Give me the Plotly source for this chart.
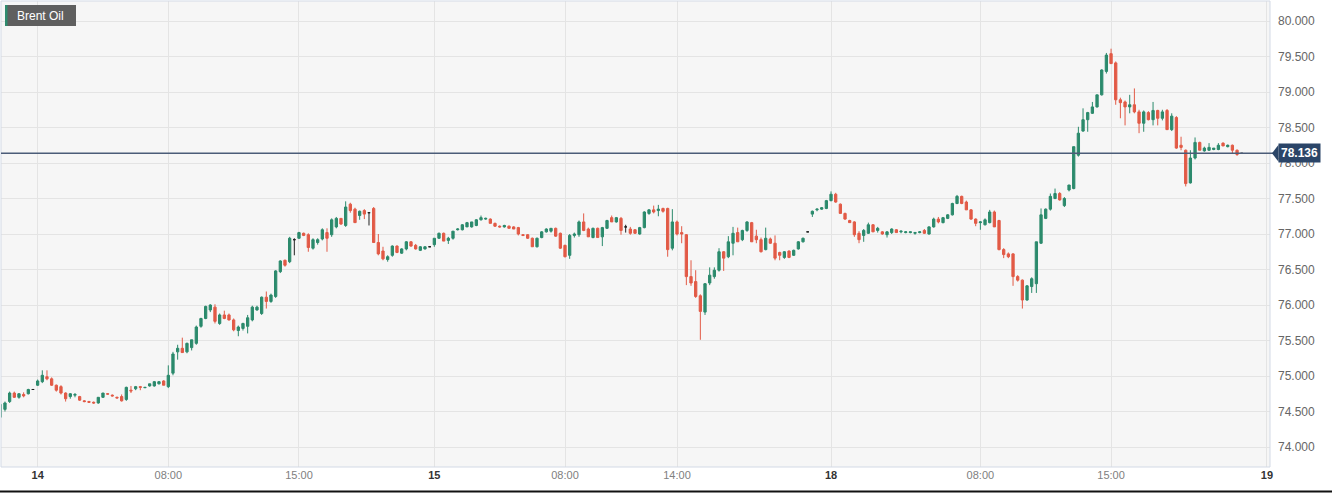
import plotly.graph_objects as go

# ---------------- data (15-minute candles) ----------------
opens = [
    74.42, 74.53, 74.64, 74.76, 74.70, 74.74, 74.75, 74.81, 74.87, 74.92,
    74.99, 74.96, 74.87, 74.85, 74.76, 74.71, 74.73, 74.71, 74.65, 74.64,
    74.63, 74.62, 74.70, 74.75, 74.73, 74.70, 74.71, 74.67, 74.80, 74.82,
    74.85, 74.835, 74.86, 74.86, 74.89, 74.93, 74.85, 75.04, 75.34, 75.39,
    75.34, 75.40, 75.46, 75.70, 75.81, 75.93, 75.97, 75.74, 75.86, 75.86,
    75.79, 75.64, 75.67, 75.70, 75.79, 75.93, 75.88, 76.11, 76.05, 76.12,
    76.47, 76.63, 76.61, 76.92, 76.94, 77.01, 76.99, 76.80, 76.88, 76.93,
    77.02, 76.99, 77.10, 77.22, 77.12, 77.42, 77.35, 77.26, 77.33, 77.30,
    77.36, 76.88, 76.76, 76.64, 76.70, 76.83, 76.73, 76.79, 76.89, 76.84,
    76.77, 76.79, 76.82, 76.85, 76.94, 77.01, 76.91, 76.94, 77.06, 77.06,
    77.10, 77.10, 77.12, 77.20, 77.21, 77.21, 77.15, 77.11, 77.10, 77.11,
    77.10, 77.09, 76.99, 76.99, 76.94, 76.82, 76.95, 77.03, 77.04, 77.08,
    77.01, 76.84, 76.70, 76.98, 76.99, 77.17, 77.07, 76.95, 77.08, 76.96,
    77.08, 77.23, 77.17, 77.22, 77.10, 77.07, 77.06, 77.00, 77.09, 77.29,
    77.34, 77.33, 77.36, 77.36, 76.80, 77.17, 77.02, 76.99, 76.40, 76.33,
    76.13, 75.90, 76.31, 76.40, 76.49, 76.75, 76.68, 76.87, 77.02, 76.92,
    77.05, 77.16, 76.97, 76.92, 76.78, 76.93, 76.87, 76.74, 76.67, 76.76,
    76.70, 76.79, 76.89, 77.03, 77.28, 77.34, 77.35, 77.36, 77.47, 77.56,
    77.42, 77.29, 77.19, 77.17, 77.01, 76.98, 77.01, 77.13, 77.05, 77.03,
    76.99, 77.02, 77.06, 77.03, 77.02, 77.02, 77.01, 77.02, 77.05, 77.00,
    77.10, 77.21, 77.16, 77.22, 77.27, 77.43, 77.53, 77.45, 77.34, 77.21,
    77.16, 77.13, 77.16, 77.31, 77.19, 76.78, 76.72, 76.72, 76.40, 76.35,
    76.07, 76.26, 76.30, 76.87, 77.22, 77.35, 77.50, 77.57, 77.40, 77.62,
    77.64, 78.11, 78.45, 78.61, 78.70, 78.79, 78.96, 79.29, 79.54, 79.41,
    78.89, 78.86, 78.79, 78.82, 78.72, 78.56, 78.71, 78.61, 78.74, 78.63,
    78.74, 78.47, 78.64, 78.25, 78.18, 77.72, 78.07, 78.29, 78.17, 78.18,
    78.19, 78.19, 78.28, 78.23, 78.25, 78.18, 78.136,
]
highs = [
    74.64, 74.64, 74.78, 74.78, 74.76, 74.77, 74.82, 74.81, 74.95, 75.08,
    75.08, 74.98, 74.88, 74.87, 74.77, 74.76, 74.76, 74.72, 74.66, 74.65,
    74.64, 74.70, 74.76, 74.76, 74.74, 74.71, 74.74, 74.85, 74.86, 74.86,
    74.86, 74.84, 74.89, 74.93, 74.93, 74.94, 75.15, 75.34, 75.44, 75.54,
    75.47, 75.51, 75.71, 75.82, 75.99, 76.01, 76.01, 75.88, 75.92, 75.88,
    75.81, 75.71, 75.75, 75.86, 75.99, 75.99, 76.12, 76.19, 76.16, 76.49,
    76.63, 76.64, 76.96, 76.94, 77.03, 77.02, 77.01, 76.94, 76.94, 77.08,
    77.08, 77.22, 77.24, 77.22, 77.46, 77.44, 77.37, 77.33, 77.35, 77.31,
    77.38, 77.00, 76.82, 76.70, 76.84, 76.84, 76.80, 76.90, 76.90, 76.86,
    76.83, 76.83, 76.82, 76.94, 77.02, 77.02, 76.96, 77.04, 77.08, 77.14,
    77.17, 77.17, 77.21, 77.26, 77.23, 77.22, 77.16, 77.12, 77.13, 77.12,
    77.11, 77.10, 77.00, 77.00, 76.95, 76.95, 77.04, 77.08, 77.08, 77.09,
    77.02, 76.85, 77.00, 77.02, 77.19, 77.29, 77.09, 77.09, 77.09, 77.10,
    77.20, 77.26, 77.24, 77.24, 77.13, 77.10, 77.07, 77.10, 77.32, 77.35,
    77.40, 77.41, 77.37, 77.37, 77.35, 77.19, 77.11, 77.00, 76.63, 76.49,
    76.15, 76.31, 76.53, 76.53, 76.80, 76.76, 76.97, 77.10, 77.09, 77.06,
    77.18, 77.17, 77.06, 76.95, 77.09, 76.95, 76.98, 76.75, 76.76, 76.77,
    76.78, 76.90, 76.95, 77.03, 77.33, 77.36, 77.38, 77.48, 77.60, 77.58,
    77.43, 77.30, 77.20, 77.18, 77.04, 77.07, 77.16, 77.14, 77.10, 77.04,
    77.04, 77.08, 77.07, 77.05, 77.04, 77.03, 77.03, 77.04, 77.07, 77.11,
    77.23, 77.24, 77.24, 77.28, 77.44, 77.55, 77.54, 77.47, 77.35, 77.22,
    77.18, 77.22, 77.34, 77.33, 77.20, 76.80, 76.74, 76.73, 76.42, 76.36,
    76.28, 76.39, 76.89, 77.36, 77.36, 77.57, 77.64, 77.59, 77.52, 77.69,
    78.23, 78.51, 78.77, 78.72, 78.86, 78.96, 79.32, 79.55, 79.61, 79.43,
    78.92, 78.88, 78.96, 79.05, 78.75, 78.74, 78.73, 78.86, 78.75, 78.75,
    78.76, 78.70, 78.66, 78.37, 78.19, 78.18, 78.36, 78.30, 78.23, 78.28,
    78.21, 78.28, 78.29, 78.26, 78.26, 78.19, 78.14,
]
lows = [
    74.35, 74.50, 74.62, 74.69, 74.68, 74.70, 74.74, 74.81, 74.86, 74.90,
    74.94, 74.86, 74.78, 74.74, 74.64, 74.68, 74.70, 74.65, 74.63, 74.62,
    74.61, 74.61, 74.69, 74.74, 74.71, 74.69, 74.64, 74.65, 74.76, 74.80,
    74.80, 74.83, 74.85, 74.85, 74.88, 74.87, 74.83, 75.01, 75.23, 75.33,
    75.32, 75.36, 75.44, 75.68, 75.80, 75.90, 75.74, 75.72, 75.80, 75.78,
    75.63, 75.56, 75.64, 75.60, 75.77, 75.92, 75.86, 75.95, 76.03, 76.10,
    76.45, 76.54, 76.59, 76.70, 76.93, 76.97, 76.75, 76.78, 76.85, 76.91,
    76.75, 76.96, 77.08, 77.13, 77.10, 77.30, 77.16, 77.20, 77.21, 77.12,
    76.88, 76.70, 76.63, 76.61, 76.68, 76.73, 76.72, 76.77, 76.82, 76.78,
    76.76, 76.78, 76.82, 76.82, 76.93, 76.90, 76.86, 76.92, 77.05, 77.05,
    77.10, 77.09, 77.11, 77.19, 77.20, 77.15, 77.10, 77.09, 77.09, 77.08,
    77.07, 76.98, 76.97, 76.93, 76.82, 76.81, 76.94, 77.02, 77.02, 76.96,
    76.79, 76.67, 76.65, 76.95, 76.96, 77.04, 76.96, 76.94, 76.95, 76.83,
    77.07, 77.17, 77.16, 76.99, 77.02, 76.99, 77.00, 76.99, 77.08, 77.27,
    77.29, 77.25, 77.30, 76.68, 76.77, 76.98, 76.87, 76.28, 76.27, 76.10,
    75.51, 75.86, 76.28, 76.37, 76.47, 76.48, 76.66, 76.70, 76.89, 76.90,
    77.03, 76.89, 76.87, 76.74, 76.77, 76.86, 76.63, 76.63, 76.65, 76.66,
    76.69, 76.78, 76.88, 77.03, 77.24, 77.32, 77.34, 77.35, 77.46, 77.44,
    77.29, 77.20, 77.16, 76.96, 76.87, 76.89, 77.00, 77.03, 77.02, 76.99,
    76.95, 77.00, 77.02, 77.01, 77.01, 77.01, 76.99, 77.01, 77.00, 76.99,
    77.09, 77.15, 77.15, 77.21, 77.26, 77.42, 77.42, 77.34, 77.20, 77.11,
    77.06, 77.12, 77.15, 77.10, 76.77, 76.66, 76.66, 76.27, 76.33, 75.95,
    76.06, 76.17, 76.17, 76.86, 77.21, 77.33, 77.49, 77.47, 77.38, 77.60,
    77.63, 78.09, 78.44, 78.44, 78.69, 78.78, 78.95, 79.26, 79.40, 78.82,
    78.63, 78.53, 78.70, 78.70, 78.42, 78.44, 78.60, 78.53, 78.53, 78.60,
    78.47, 78.45, 78.20, 78.18, 77.67, 77.71, 78.05, 78.18, 78.16, 78.17,
    78.18, 78.18, 78.24, 78.22, 78.13, 78.10, 78.13,
]
closes = [
    74.60, 74.62, 74.76, 74.70, 74.75, 74.72, 74.81, 74.81, 74.93, 75.01,
    74.96, 74.87, 74.80, 74.76, 74.68, 74.75, 74.74, 74.66, 74.64, 74.63,
    74.62, 74.70, 74.76, 74.745, 74.72, 74.69, 74.65, 74.84, 74.79, 74.85,
    74.84, 74.84, 74.89, 74.92, 74.92, 74.87, 75.01, 75.31, 75.39, 75.33,
    75.46, 75.51, 75.69, 75.81, 75.98, 76.00, 75.77, 75.86, 75.81, 75.79,
    75.65, 75.69, 75.74, 75.82, 75.97, 75.97, 76.11, 76.05, 76.14, 76.48,
    76.62, 76.56, 76.94, 76.92, 77.02, 76.98, 76.81, 76.92, 76.92, 77.06,
    76.94, 77.20, 77.22, 77.14, 77.38, 77.33, 77.16, 77.32, 77.28, 77.30,
    76.88, 76.72, 76.65, 76.68, 76.83, 76.74, 76.79, 76.89, 76.83, 76.79,
    76.82, 76.82, 76.82, 76.94, 77.01, 76.90, 76.94, 77.04, 77.07, 77.13,
    77.16, 77.17, 77.20, 77.23, 77.22, 77.15, 77.11, 77.10, 77.12, 77.08,
    77.07, 77.00, 76.98, 76.94, 76.82, 76.94, 77.03, 77.07, 77.08, 76.97,
    76.80, 76.68, 76.98, 77.00, 77.17, 77.05, 76.96, 77.08, 76.95, 77.09,
    77.19, 77.17, 77.23, 77.05, 77.10, 77.01, 77.01, 77.09, 77.31, 77.34,
    77.31, 77.35, 77.32, 76.78, 77.17, 77.00, 77.00, 76.40, 76.31, 76.12,
    75.91, 76.30, 76.42, 76.49, 76.75, 76.66, 76.89, 77.01, 76.89, 77.05,
    77.17, 76.89, 76.92, 76.75, 76.94, 76.87, 76.66, 76.70, 76.75, 76.67,
    76.77, 76.89, 76.94, 77.03, 77.32, 77.35, 77.37, 77.47, 77.56, 77.45,
    77.29, 77.21, 77.16, 76.99, 76.92, 77.05, 77.13, 77.03, 77.08, 77.00,
    77.03, 77.07, 77.02, 77.04, 77.03, 77.03, 77.02, 77.03, 77.01, 77.10,
    77.21, 77.17, 77.23, 77.27, 77.43, 77.53, 77.43, 77.34, 77.21, 77.15,
    77.17, 77.20, 77.31, 77.10, 76.78, 76.71, 76.68, 76.40, 76.35, 76.07,
    76.27, 76.37, 76.89, 77.27, 77.35, 77.53, 77.57, 77.48, 77.50, 77.69,
    78.23, 78.42, 78.61, 78.71, 78.79, 78.96, 79.31, 79.52, 79.40, 78.89,
    78.85, 78.79, 78.82, 78.72, 78.56, 78.72, 78.61, 78.74, 78.63, 78.72,
    78.47, 78.66, 78.21, 78.22, 77.71, 78.07, 78.29, 78.18, 78.21, 78.22,
    78.21, 78.25, 78.24, 78.25, 78.18, 78.12, 78.136,
]

# x-axis: candle slot positions of the labelled times
tick_positions = [8, 36, 64, 93, 121, 145, 178, 210, 238, 271.4]
tick_labels = ["14", "08:00", "15:00", "15", "08:00", "14:00", "18", "08:00", "15:00", "19"]
day_labels = {"14", "15", "18", "19"}

y_ticks = [74.0, 74.5, 75.0, 75.5, 76.0, 76.5, 77.0, 77.5, 78.0, 78.5, 79.0, 79.5, 80.0]
last_price = 78.136
instrument = "Brent Oil"

# ---------------- figure ----------------
W, H = 1332, 493
ML, MR, MT, MB = 1, 62, 1, 26
PW, PH = W - ML - MR, H - MT - MB

def px_x(px):  # pixel -> paper x
    return (px - ML) / PW

def px_y(py):  # pixel -> paper y
    return (H - MB - py) / PH

x_all = list(range(len(opens)))
norm = [i for i in x_all if opens[i] != closes[i]]
flat = [i for i in x_all if opens[i] == closes[i]]

GREEN = "#2b8a6c"
RED = "#e25a46"

fig = go.Figure()
fig.add_trace(go.Candlestick(
    x=norm,
    open=[opens[i] for i in norm], high=[highs[i] for i in norm],
    low=[lows[i] for i in norm], close=[closes[i] for i in norm],
    increasing=dict(line=dict(color=GREEN, width=1), fillcolor=GREEN),
    decreasing=dict(line=dict(color=RED, width=1), fillcolor=RED),
    showlegend=False, hoverinfo="skip",
))
fig.add_trace(go.Candlestick(
    x=flat,
    open=[opens[i] for i in flat], high=[highs[i] for i in flat],
    low=[lows[i] for i in flat], close=[closes[i] for i in flat],
    increasing=dict(line=dict(color="#222222", width=1), fillcolor="#222222"),
    decreasing=dict(line=dict(color="#222222", width=1), fillcolor="#222222"),
    showlegend=False, hoverinfo="skip",
))

ticktext = []
for t in tick_labels:
    if t in day_labels:
        ticktext.append(f"<b><span style='color:#333333'>{t}</span></b>")
    else:
        ticktext.append(f"<span style='color:#808080'>{t}</span>")

x0 = 0.15
x1 = x0 + PW / 4.667
ppu = 71.0
y_lo = 74.0 - (447 - (H - MB)) / ppu * -1 if False else 74.0 - 20 / ppu
y_hi = 80.0 + 20 / ppu

fig.update_layout(
    width=W, height=H,
    margin=dict(l=ML, r=MR, t=MT, b=MB, pad=0),
    paper_bgcolor="white", plot_bgcolor="#f6f6f6",
    font=dict(family="Liberation Sans, Arial, sans-serif", size=12, color="#666666"),
    showlegend=False,
    xaxis=dict(
        range=[x0, x1], tickvals=tick_positions, ticktext=ticktext,
        showgrid=True, gridcolor="#e4e4e4", gridwidth=1,
        zeroline=False, showline=False, ticks="",
        tickfont=dict(size=11), rangeslider=dict(visible=False),
        fixedrange=True,
    ),
    yaxis=dict(
        side="right", range=[y_lo, y_hi], tickvals=y_ticks, tickformat=".3f",
        showgrid=True, gridcolor="#e4e4e4", gridwidth=1,
        zeroline=False, showline=False, ticks="", ticklabelstandoff=7,
        tickfont=dict(size=12, color="#666666"), fixedrange=True,
    ),
)

shapes = [
    # frame around the plot
    dict(type="rect", xref="paper", yref="paper", x0=0, x1=1, y0=0, y1=1,
         line=dict(color="#d3dae6", width=1), fillcolor="rgba(0,0,0,0)", layer="above"),
    # last price line
    dict(type="line", xref="paper", yref="y", x0=0, x1=px_x(1274), y0=last_price, y1=last_price,
         line=dict(color="#4b5c78", width=1.5), layer="above"),
    # pointer of the price tag
    dict(type="path", xref="paper", yref="y",
         path=(f"M {px_x(1272)},{last_price} L {px_x(1278.5)},{last_price + 8.5 / ppu} "
               f"L {px_x(1278.5)},{last_price - 8.5 / ppu} Z"),
         fillcolor="#2b4568", line=dict(width=0), layer="above"),
    # instrument tag
    dict(type="rect", xref="paper", yref="paper", x0=px_x(5), x1=px_x(76), y0=px_y(26), y1=px_y(5),
         fillcolor="#5f5f5f", line=dict(width=0), layer="above"),
    dict(type="rect", xref="paper", yref="paper", x0=px_x(5), x1=px_x(7.5), y0=px_y(26), y1=px_y(5),
         fillcolor="#2e8b6e", line=dict(width=0), layer="above"),
    # dark line along the bottom edge of the page
    dict(type="line", xref="paper", yref="paper", x0=px_x(0), x1=px_x(W), y0=px_y(491.5), y1=px_y(491.5),
         line=dict(color="#111111", width=2), layer="above"),
]
fig.update_layout(shapes=shapes)

fig.add_annotation(
    xref="paper", yref="y", x=px_x(1278), y=last_price, xanchor="left", yanchor="middle",
    text=f"<b>{last_price:.3f}</b>", showarrow=False,
    font=dict(color="white", size=12, family="Liberation Sans, Arial, sans-serif"),
    bgcolor="#2b4568", borderpad=2,
)
fig.add_annotation(
    xref="paper", yref="paper", x=px_x(15), y=px_y(15.5), xanchor="left", yanchor="middle",
    text=instrument, showarrow=False,
    font=dict(color="white", size=12, family="Liberation Sans, Arial, sans-serif"),
)

fig.write_html("out.html")
